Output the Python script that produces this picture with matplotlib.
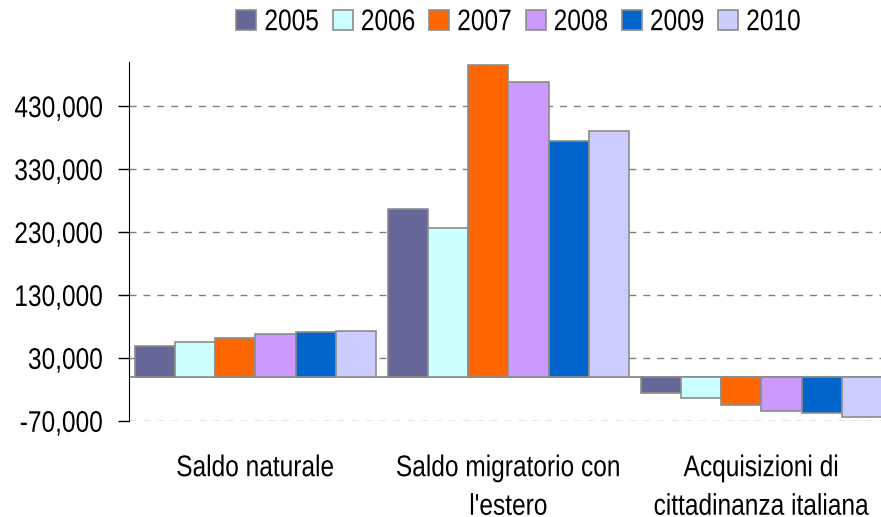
import numpy as np
import matplotlib
matplotlib.use("Agg")
import matplotlib.pyplot as plt
from matplotlib.patheffects import AbstractPathEffect
from matplotlib.transforms import Affine2D
from matplotlib.ticker import FuncFormatter

plt.rcParams['font.family'] = ['Liberation Sans', 'DejaVu Sans']


class Narrow(AbstractPathEffect):
    # squeeze glyphs horizontally so Liberation Sans looks like Arial Narrow
    def __init__(self, sx=0.82, anchor="center"):
        super().__init__()
        self.sx = sx
        self.anchor = anchor

    def draw_path(self, renderer, gc, tpath, affine, rgbFace=None):
        v = tpath.vertices
        if len(v) == 0:
            return
        if self.anchor == "right":
            cx = v[:, 0].max()
        elif self.anchor == "left":
            cx = v[:, 0].min()
        else:
            cx = (v[:, 0].min() + v[:, 0].max()) / 2
        t = Affine2D().translate(-cx, 0).scale(self.sx, 1).translate(cx, 0) + affine
        renderer.draw_path(gc, tpath, t, rgbFace)


categories = ["Saldo naturale", "Saldo migratorio con\nl'estero",
              "Acquisizioni di\ncittadinanza italiana"]
years = ["2005", "2006", "2007", "2008", "2009", "2010"]
colors = ["#666699", "#CCFFFF", "#FF6600", "#CC99FF", "#0066CC", "#CCCCFF"]

v2005 = [48600, 266000, -26500]
v2006 = [55000, 237000, -33800]
v2007 = [61800, 495000, -45500]
v2008 = [68600, 468600, -54000]
v2009 = [71800, 375000, -57000]
v2010 = [72900, 390000, -64500]
series = [v2005, v2006, v2007, v2008, v2009, v2010]

fs = 21.5

fig = plt.figure(figsize=(8.81, 5.17), dpi=100)
ax = fig.add_axes([0.1464, 0.186, 0.8615, 0.694])

x = np.arange(len(categories))
width = 0.159
for i, (vals, col, yr) in enumerate(zip(series, colors, years)):
    ax.bar(x + (i - 2.5) * width, vals, width, color=col, edgecolor="#8c8c8c",
           linewidth=1.2, label=yr, zorder=3)

ax.set_xlim(-0.5, 2.5)
ax.set_ylim(-70000, 500000)
ax.set_yticks(np.arange(-70000, 500000, 100000))
ax.yaxis.set_major_formatter(FuncFormatter(lambda v, p: f"{int(v):,}"))
ax.grid(axis="y", linestyle=(0, (5, 5)), color="#808080", linewidth=1, zorder=0)
ax.axhline(0, color="#808080", linewidth=1.2, zorder=2)

ax.set_xticks(x)
ax.set_xticklabels(categories, fontsize=fs, linespacing=1.48)
ax.tick_params(axis="x", length=0, pad=24)
ax.tick_params(axis="y", labelsize=fs, length=8, direction="out", width=1, pad=11)
for s in ["top", "right", "bottom"]:
    ax.spines[s].set_visible(False)
ax.spines["left"].set_color("black")

leg = ax.legend(loc="center", bbox_to_anchor=(0.521, 1.111), ncol=6, frameon=False,
                fontsize=fs, handlelength=0.67, handleheight=0.67, handletextpad=0.27,
                columnspacing=0.07, borderpad=0)
for p in leg.get_patches():
    p.set_edgecolor("#8c8c8c")

fig.canvas.draw()
for t in ax.get_yticklabels():
    t.set_path_effects([Narrow(anchor="right")])
for t in ax.get_xticklabels():
    t.set_path_effects([Narrow(anchor="center")])
for t in leg.get_texts():
    t.set_path_effects([Narrow(anchor="left")])

fig.savefig("out.png", dpi=100)
